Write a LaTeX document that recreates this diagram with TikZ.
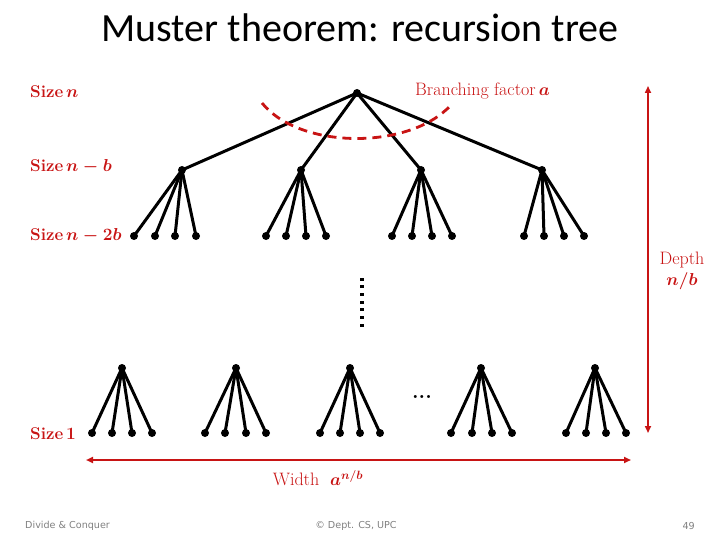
\documentclass[tikz,border=0pt]{standalone}
\usepackage{fontspec}
\newfontfamily\titlefont{Carlito}
\newfontfamily\footfont{DejaVu Sans}
\usetikzlibrary{arrows.meta}
\definecolor{myred}{HTML}{C81414}
\definecolor{footgray}{HTML}{808080}
\tikzset{
  dot/.style={circle,fill=black,inner sep=0pt,minimum size=8pt},
  edge/.style={line width=3pt,black},
  lbl/.style={text=myred,font=\fontsize{17}{19}\selectfont\bfseries\boldmath,inner sep=0pt,anchor=west},
  rlbl/.style={text=myred,font=\fontsize{18}{20}\selectfont\boldmath,inner sep=0pt},
  foot/.style={text=footgray,font=\footfont\fontsize{9.6}{11}\selectfont,inner sep=0pt},
  redarrow/.style={myred,line width=1.6pt,{Triangle[length=7pt,width=6pt]}-{Triangle[length=7pt,width=6pt]}},
}
\begin{document}
\begin{tikzpicture}[x=1pt,y=-1pt]
\useasboundingbox (0,0) rectangle (720,540);
% title
\node[font=\titlefont\fontsize{40}{44}\selectfont] (title) at (360,28) {Muster theorem: recursion tree};
% root and level 1
\node[dot] (root) at (357,93) {};
\foreach \i/\x in {1/182,2/301,3/421,4/542}{
  \node[dot] (l1-\i) at (\x,170) {};
  \draw[edge] (root.center) -- (l1-\i.center);
}
% level 2
\foreach \i/\a/\b/\c/\d in {1/134/155/175/196,2/266/286/306/326,3/392/412/432/452,4/524/544/564/584}{
  \foreach \j/\x in {1/\a,2/\b,3/\c,4/\d}{
    \node[dot] (l2-\i-\j) at (\x,236) {};
    \draw[edge] (l1-\i.center) -- (l2-\i-\j.center);
  }
}
% bottom subtrees
\foreach \i/\t/\a/\b/\c/\d in {1/122/92/112/132/152,2/236/205/225/246/266,3/350/320/340/360/380,4/481/451/472/492/512,5/595/566/586/606/626}{
  \node[dot] (b-\i) at (\t,368) {};
  \foreach \j/\x in {1/\a,2/\b,3/\c,4/\d}{
    \node[dot] (bl-\i-\j) at (\x,433) {};
    \draw[edge] (b-\i.center) -- (bl-\i-\j.center);
  }
}
% vertical dots
\foreach \k in {0,...,6}{
  \node[fill=black,inner sep=0pt,minimum width=4pt,minimum height=3pt] (vd-\k) at (362,279+\k*7.7) {};
}
\node[font=\fontsize{21}{24}\selectfont\bfseries,inner sep=0pt] (hdots) at (422,397) {...};
% branching arc
\coordinate (arcA) at (262,103);
\coordinate (arcB) at (451,105);
\draw[myred,line width=2.8pt,dash pattern=on 9pt off 6pt] (arcA) .. controls (300,150) and (410,150) .. (arcB);
% labels
\node[lbl] (s0) at (30,92) {Size\,$n$};
\node[lbl] (s1) at (30,167) {Size\,$n-b$};
\node[lbl] (s2) at (30,236) {Size\,$n-2b$};
\node[lbl] (s3) at (30,434) {Size\,$1$};
\node[rlbl,anchor=west] (bf) at (415,91) {Branching factor\,$a$};
% depth arrow
\coordinate (dtop) at (648,86);
\coordinate (dbot) at (648,433);
\draw[redarrow] (dtop) -- (dbot);
\node[rlbl] (depth) at (682,260) {Depth};
\node[lbl,anchor=center] (nb) at (682,281) {$n/b$};
% width arrow
\coordinate (wl) at (86,460);
\coordinate (wr) at (631,460);
\draw[redarrow,line width=2pt] (wl) -- (wr);
\node[rlbl] (width) at (318,478) {Width~~$a^{n/b}$};
% footer
\node[foot,anchor=west] (f1) at (25,526) {Divide \& Conquer};
\node[foot] (f2) at (356,526) {© Dept. CS, UPC};
\node[foot,anchor=east] (f3) at (695,526) {49};
\end{tikzpicture}
\end{document}
